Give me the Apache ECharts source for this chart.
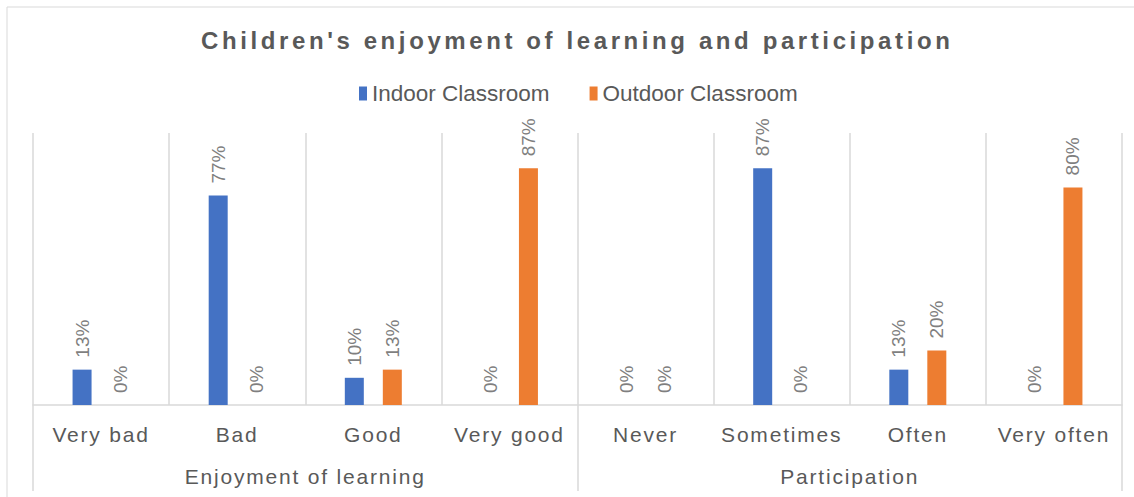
<!DOCTYPE html>
<html>
<head>
    <meta charset="utf-8">
    <title>Children's enjoyment of learning and participation</title>
    <script src="https://cdn.jsdelivr.net/npm/echarts@6/dist/echarts.min.js"></script>
</head>
<body style="margin:0;background:#fff;">
    <div id="main" style="width:1134px;height:497px;"></div>
    <script type="text/javascript">
        // data
        var categories = ['Very bad', 'Bad', 'Good', 'Very good', 'Never', 'Sometimes', 'Often', 'Very often'];
        var groups = ['Enjoyment of learning', 'Participation'];
        var indoor = [13, 77, 10, 0, 0, 87, 13, 0];
        var outdoor = [0, 0, 13, 87, 0, 0, 20, 80];

        var titleText = "Children's enjoyment of learning and participation";

        // svg renderer so the spaced-out texts can get a letter-spacing afterwards
        var myChart = echarts.init(document.getElementById('main'), null, { renderer: 'svg' });

        var grey = '#d9d9d9';
        var font = 'Liberation Sans, Arial';
        var labelOpt = {
            show: true,
            position: 'top',
            rotate: 90,
            align: 'left',
            verticalAlign: 'middle',
            distance: 12,
            color: '#7f7f7f',
            fontFamily: font,
            fontSize: 19,
            formatter: '{c}%'
        };

        var option = {
            animation: false,
            backgroundColor: '#fff',
            title: {
                text: titleText,
                left: 196,
                top: 23,
                textStyle: {
                    color: '#595959',
                    fontFamily: font,
                    fontWeight: 'bold',
                    fontSize: 24
                }
            },
            legend: {
                top: 77,
                left: 354,
                icon: 'rect',
                itemWidth: 8,
                itemHeight: 14,
                itemGap: 40,
                textStyle: {
                    color: '#595959',
                    fontFamily: font,
                    fontSize: 22.5
                }
            },
            graphic: [{
                type: 'rect',
                shape: { x: 7, y: 7, width: 1140, height: 500 },
                style: { fill: 'none', stroke: grey, lineWidth: 1 },
                silent: true
            }],
            grid: { left: 33, right: 12, top: 133, bottom: 92 },
            xAxis: [{
                type: 'category',
                data: categories,
                axisLine: { lineStyle: { color: grey, width: 1.5 } },
                axisTick: { show: false },
                splitLine: { show: true, interval: 0, lineStyle: { color: grey, width: 1.5 } },
                axisLabel: {
                    interval: 0,
                    margin: 19,
                    color: '#595959',
                    fontFamily: font,
                    fontSize: 21
                }
            }, {
                type: 'category',
                data: groups,
                position: 'bottom',
                axisLine: { show: false },
                axisTick: { show: true, length: 86, lineStyle: { color: grey, width: 1.5 } },
                axisLabel: {
                    interval: 0,
                    margin: 61,
                    color: '#595959',
                    fontFamily: font,
                    fontSize: 21
                }
            }],
            yAxis: {
                type: 'value',
                min: 0,
                max: 100,
                show: false
            },
            series: [{
                name: 'Indoor Classroom',
                type: 'bar',
                data: indoor,
                barWidth: 19,
                barGap: '100%',
                itemStyle: { color: '#4472C4' },
                label: labelOpt
            }, {
                name: 'Outdoor Classroom',
                type: 'bar',
                data: outdoor,
                barWidth: 19,
                barGap: '100%',
                itemStyle: { color: '#ED7D31' },
                label: labelOpt
            }]
        };
        myChart.setOption(option);

        // the original chart spaces out the title and the axis texts
        function spaceTexts() {
            var texts = document.querySelectorAll('#main svg text');
            texts.forEach(function (t) {
                var s = t.textContent;
                if (s === titleText) {
                    t.style.letterSpacing = '3.6px';
                } else if (categories.indexOf(s) >= 0 || groups.indexOf(s) >= 0) {
                    t.style.letterSpacing = '1.8px';
                }
            });
        }
        myChart.on('finished', spaceTexts);
        setTimeout(spaceTexts, 0);
    </script>
</body>
</html>
